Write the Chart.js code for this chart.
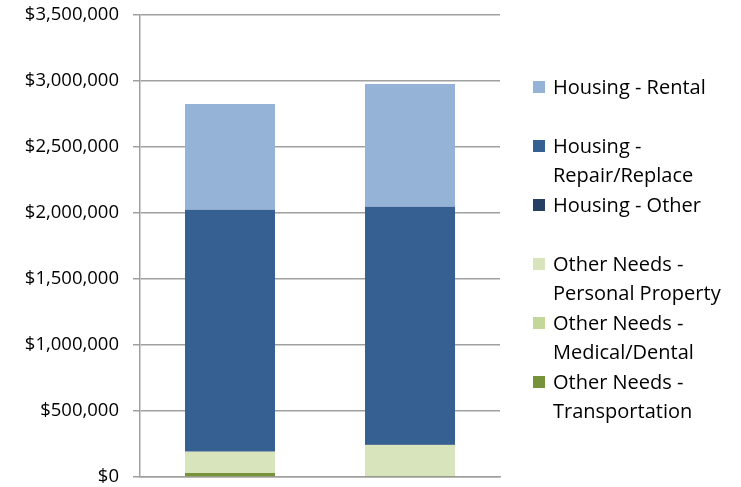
<!DOCTYPE html>
<html>
<head>
<meta charset="utf-8">
<script src="https://cdn.jsdelivr.net/npm/chart.js@4"></script>
<style>
  body { margin: 0; background: #fff; }
  #wrap { position: relative; width: 741px; height: 487px; }
  #legend { position: absolute; left: 533px; top: 72px; width: 205px;
    font-family: "Open Sans", sans-serif; font-size: 20px; color: #000; }
  .item { height: 59px; display: flex; align-items: flex-start; }
  .box { width: 12px; height: 12px; margin-top: 9px; margin-right: 8px; flex: none; }
  .txt { line-height: 29px; width: 185px; }
</style>
</head>
<body>
<div id="wrap">
  <canvas id="chart" width="741" height="487"></canvas>
  <div id="legend"></div>
</div>
<script>
// categories (the x axis shows no labels)
const categories = ['', ''];

// series, stacked bottom to top
const seriesNames = [
    'Other Needs - Transportation',
    'Other Needs - Medical/Dental',
    'Other Needs - Personal Property',
    'Housing - Other',
    'Housing - Repair/Replace',
    'Housing - Rental'
];
const transportation = [30000, 8000];
const medicalDental = [4000, 3000];
const personalProperty = [158000, 231000];
const housingOther = [2000, 2000];
const repairReplace = [1831000, 1804000];
const rental = [801000, 929000];

const yTicks = [0, 500000, 1000000, 1500000, 2000000, 2500000, 3000000, 3500000];

const colors = ['#76933C', '#C4D79B', '#D8E4BC', '#254061', '#366092', '#95B3D7'];
const values = [transportation, medicalDental, personalProperty, housingOther, repairReplace, rental];

function money(v) {
    return '$' + v.toLocaleString('en-US');
}

function initChart() {
    const ctx = document.getElementById('chart').getContext('2d');
    const datasets = seriesNames.map((name, i) => ({
        label: name,
        data: values[i],
        backgroundColor: colors[i],
        borderWidth: 0,
        barPercentage: 0.5,
        categoryPercentage: 1
    }));

    window.myChart = new Chart(ctx, {
        type: 'bar',
        data: { labels: categories, datasets: datasets },
        options: {
            responsive: false,
            animation: false,
            layout: { padding: { top: 15, right: 241, bottom: 10, left: 0 } },
            plugins: { legend: { display: false }, tooltip: { enabled: false } },
            scales: {
                x: {
                    stacked: true,
                    afterFit: axis => { axis.height = 0; },
                    ticks: { display: false },
                    grid: { display: false, drawTicks: false },
                    border: { color: '#a0a0a0', width: 1.5 }
                },
                y: {
                    stacked: true,
                    min: 0,
                    max: 3500000,
                    afterBuildTicks: axis => { axis.ticks = yTicks.map(v => ({ value: v })); },
                    afterFit: axis => {
                        axis.width = 140;
                        axis.paddingTop = 0;
                        axis.paddingBottom = 0;
                    },
                    ticks: {
                        padding: 14,
                        color: '#000',
                        font: { family: '"Open Sans", sans-serif', size: 18.5 },
                        callback: v => money(v)
                    },
                    grid: { color: '#a0a0a0', lineWidth: 1.5, tickLength: 7 },
                    border: { color: '#a0a0a0', width: 1.5 }
                }
            }
        }
    });

    // legend, top entry first
    const legend = document.getElementById('legend');
    for (let i = seriesNames.length - 1; i >= 0; i--) {
        const item = document.createElement('div');
        item.className = 'item';
        const box = document.createElement('div');
        box.className = 'box';
        box.style.background = colors[i];
        const txt = document.createElement('div');
        txt.className = 'txt';
        txt.textContent = seriesNames[i];
        item.appendChild(box);
        item.appendChild(txt);
        legend.appendChild(item);
    }
}

window.onload = initChart;
</script>
</body>
</html>
